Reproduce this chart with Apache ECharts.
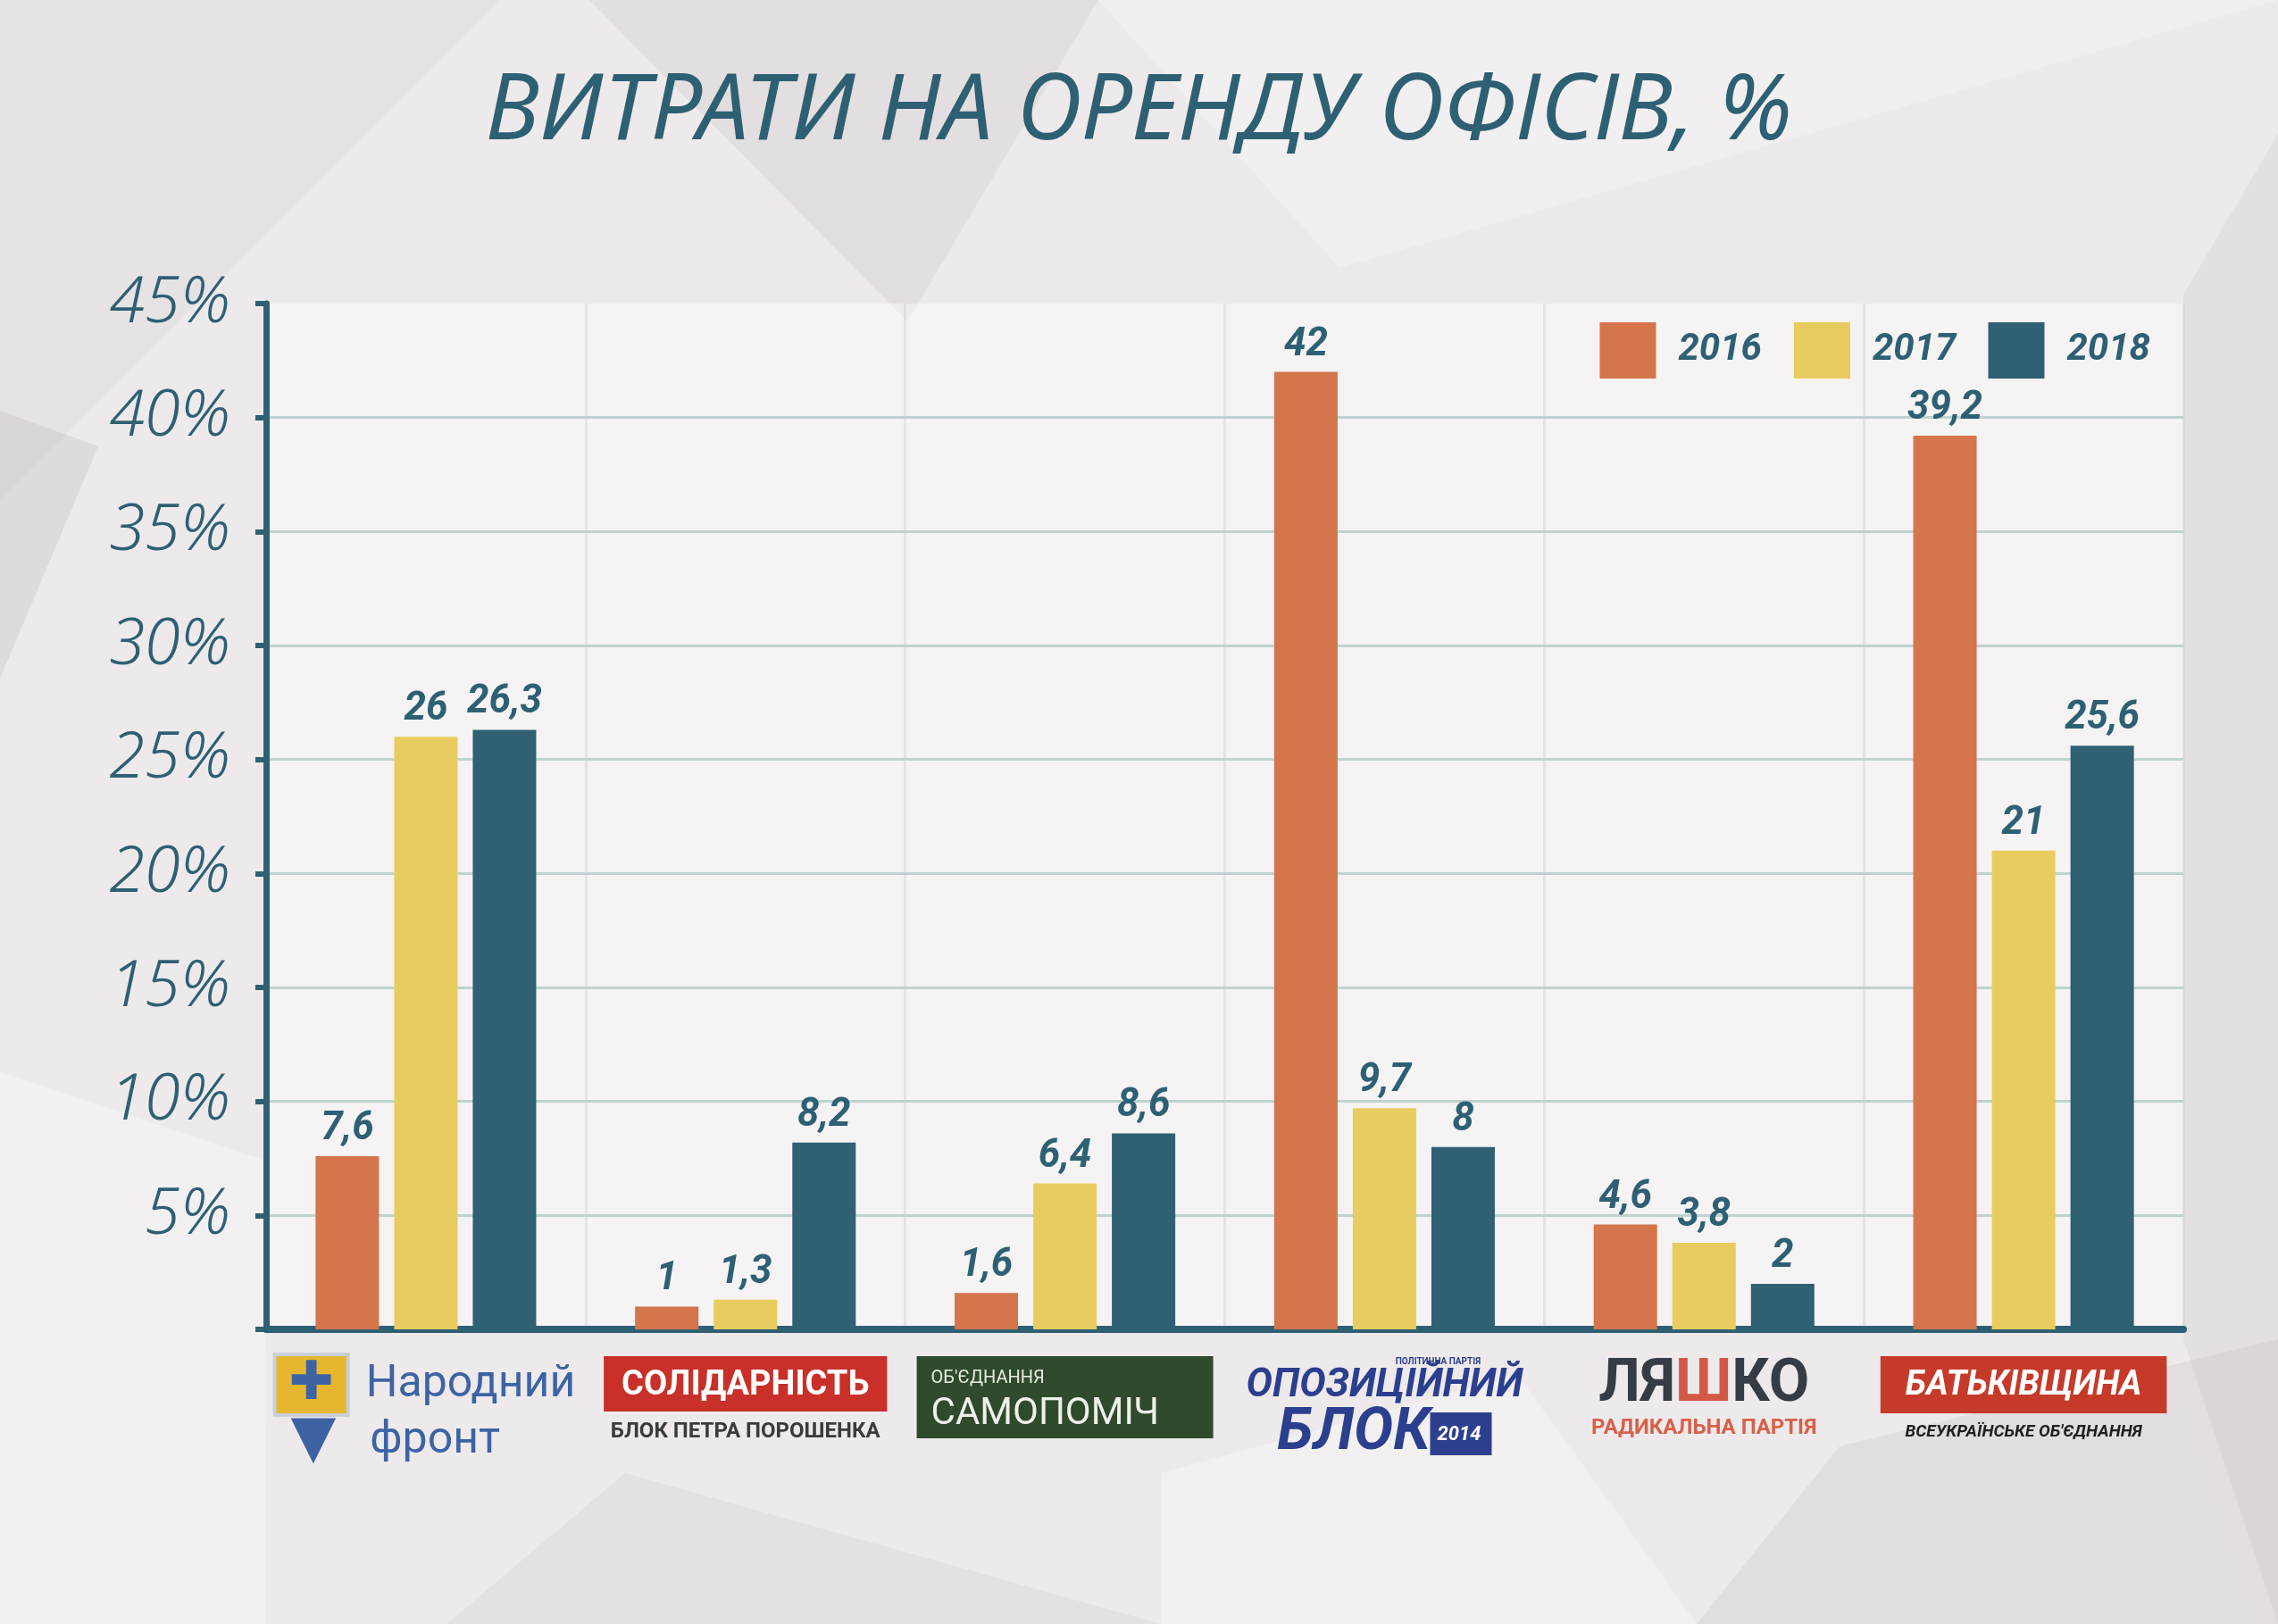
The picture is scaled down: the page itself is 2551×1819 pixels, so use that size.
<!DOCTYPE html>
<html>
<head>
<meta charset="utf-8">
<title>Витрати на оренду офісів</title>
<script src="https://cdn.jsdelivr.net/npm/echarts@6/dist/echarts.min.js"></script>
<style>
  html, body { margin: 0; padding: 0; background: #eeeaeb; }
  #chart { width: 2551px; height: 1819px; }
</style>
</head>
<body>
<div id="chart"></div>
<script>
const categories = ['Народний фронт', 'Солідарність', 'Самопоміч', 'Опозиційний блок', 'Радикальна партія Ляшка', 'Батьківщина'];
const years = ['2016', '2017', '2018'];
const values2016 = [7.6, 1, 1.6, 42, 4.6, 39.2];
const values2017 = [26, 1.3, 6.4, 9.7, 3.8, 21];
const values2018 = [26.3, 8.2, 8.6, 8, 2, 25.6];
const yTicks = [0, 5, 10, 15, 20, 25, 30, 35, 40, 45];

const colors = ['#d4754c', '#e8cc5f', '#2f6074'];
const ink = '#2e6074';
const bold = "Roboto, 'Liberation Sans', sans-serif";

// party "logos" drawn as rich text under each category
const logoLabels = {
  'Народний фронт': '{sh1|✚}{nf|Народний}\n{sh2|▼}{nf|фронт}',
  'Солідарність': '{sol|СОЛІДАРНІСТЬ}\n{solSub|БЛОК ПЕТРА ПОРОШЕНКА}',
  'Самопоміч': "{sam1|ОБ'ЄДНАННЯ}\n{sam2|САМОПОМІЧ}",
  'Опозиційний блок': '{op0|ПОЛІТИЧНА ПАРТІЯ}\n{op1|ОПОЗИЦІЙНИЙ}\n{op2|БЛОК}{op3|2014}',
  'Радикальна партія Ляшка': '{l1|ЛЯ}{l1r|Ш}{l1|КО}\n{l2|РАДИКАЛЬНА ПАРТІЯ}',
  'Батьківщина': "{b1|БАТЬКІВЩИНА}\n{b2|ВСЕУКРАЇНСЬКЕ ОБ'ЄДНАННЯ}"
};

const fmt = (v) => String(v).replace('.', ',');

const chart = echarts.init(document.getElementById('chart'));

const barLabel = {
  show: true,
  position: 'top',
  distance: 8,
  color: ink,
  fontFamily: bold,
  fontWeight: 'bold',
  fontStyle: 'italic',
  fontSize: 44,
  formatter: (p) => fmt(p.value)
};

// faint low-poly background shapes
const bgShapes = [
  { points: [[660, 0], [1230, 0], [1016, 360]], fill: 'rgba(200,192,195,0.28)' },
  { points: [[0, 0], [560, 0], [0, 560]], fill: 'rgba(200,192,195,0.18)' },
  { points: [[1230, 0], [2551, 0], [1500, 300]], fill: 'rgba(255,255,255,0.25)' },
  { points: [[2445, 330], [2551, 150], [2551, 1819], [2445, 1500]], fill: 'rgba(200,192,195,0.25)' },
  { points: [[0, 460], [110, 500], [0, 760]], fill: 'rgba(190,182,185,0.3)' },
  { points: [[0, 1200], [298, 1300], [298, 1819], [0, 1819]], fill: 'rgba(255,255,255,0.3)' },
  { points: [[2060, 1620], [2551, 1500], [2551, 1819], [1900, 1819]], fill: 'rgba(200,192,195,0.3)' },
  { points: [[700, 1650], [1300, 1819], [500, 1819]], fill: 'rgba(200,192,195,0.22)' },
  { points: [[1300, 1650], [1700, 1540], [1900, 1819], [1300, 1819]], fill: 'rgba(255,255,255,0.3)' }
];

chart.setOption({
  animation: false,
  backgroundColor: '#eeeaeb',
  color: colors,
  graphic: bgShapes.map((s) => ({
    type: 'polygon',
    z: -10,
    silent: true,
    shape: { points: s.points },
    style: { fill: s.fill }
  })),
  title: {
    text: 'ВИТРАТИ НА ОРЕНДУ ОФІСІВ, %',
    left: 'center',
    top: 70,
    textStyle: {
      color: ink,
      fontFamily: "'Noto Sans', sans-serif",
      fontStyle: 'italic',
      fontWeight: 'normal',
      fontSize: 103
    }
  },
  legend: {
    data: years,
    right: 138,
    top: 356,
    icon: 'rect',
    itemWidth: 63,
    itemHeight: 63,
    itemGap: 36,
    formatter: (name) => '{t|' + name + '}',
    textStyle: {
      rich: {
        t: {
          color: ink,
          fontFamily: bold,
          fontWeight: 'bold',
          fontStyle: 'italic',
          fontSize: 42,
          padding: [0, 0, 0, 20]
        }
      }
    }
  },
  grid: {
    left: 298,
    right: 106,
    top: 340,
    bottom: 330,
    show: true,
    backgroundColor: 'rgba(255,255,255,0.42)',
    borderWidth: 0
  },
  xAxis: {
    type: 'category',
    data: categories,
    axisLine: { lineStyle: { color: ink, width: 8 } },
    axisTick: { show: false },
    splitLine: { show: true, lineStyle: { color: 'rgba(195,208,208,0.4)', width: 3 } },
    axisLabel: {
      interval: 0,
      margin: 30,
      formatter: (v) => logoLabels[v],
      rich: {
        sh1: { align: 'left', height: 64, backgroundColor: '#e6b62f', borderColor: '#c8d0d8', borderWidth: 4, color: '#3d63a5', fontSize: 60, fontFamily: 'DejaVu Sans', padding: [0, 14, 0, 14] },
        sh2: { align: 'left', height: 60, color: '#3d63a5', fontSize: 66, fontFamily: 'DejaVu Sans', padding: [0, 16, 0, 16] },
        nf: { align: 'left', color: '#3d63a5', fontSize: 50, fontFamily: "Roboto, sans-serif", lineHeight: 62, padding: [0, 0, 0, 22] },
        sol: { color: '#ffffff', backgroundColor: '#c9302a', fontFamily: bold, fontWeight: 'bold', fontSize: 38, padding: [14, 20, 10, 20] },
        solSub: { color: '#3b3b3b', fontFamily: bold, fontWeight: 'bold', fontSize: 24, lineHeight: 46 },
        sam1: { color: '#e8ebe4', backgroundColor: '#2f4a2c', width: 300, height: 34, align: 'left', fontFamily: bold, fontSize: 20, padding: [8, 16, 0, 16] },
        sam2: { color: '#eef0ea', backgroundColor: '#2f4a2c', width: 300, height: 46, align: 'left', fontFamily: bold, fontSize: 42, padding: [0, 16, 4, 16] },
        op0: { color: '#2c3f8f', fontFamily: bold, fontWeight: 'bold', fontSize: 10, lineHeight: 12, padding: [0, 0, 0, 120] },
        op1: { color: '#2c3f8f', fontFamily: bold, fontWeight: 'bold', fontStyle: 'italic', fontSize: 44, lineHeight: 44 },
        op2: { color: '#2c3f8f', fontFamily: bold, fontWeight: 'bold', fontStyle: 'italic', fontSize: 66, lineHeight: 62 },
        op3: { color: '#ffffff', backgroundColor: '#2c3f8f', fontFamily: bold, fontWeight: 'bold', fontStyle: 'italic', fontSize: 22, padding: [14, 12, 12, 8] },
        l1: { color: '#353c46', fontFamily: bold, fontWeight: 'bold', fontSize: 66, lineHeight: 66 },
        l1r: { color: '#d25a45', fontFamily: bold, fontWeight: 'bold', fontSize: 66, lineHeight: 66 },
        l2: { color: '#d8604a', fontFamily: bold, fontWeight: 'bold', fontSize: 24, lineHeight: 30 },
        b1: { color: '#ffffff', backgroundColor: '#c63a2a', fontFamily: bold, fontWeight: 'bold', fontStyle: 'italic', fontSize: 38, padding: [14, 28, 12, 28] },
        b2: { color: '#1f1f1f', fontFamily: bold, fontWeight: 'bold', fontStyle: 'italic', fontSize: 19, lineHeight: 42 }
      }
    }
  },
  yAxis: {
    type: 'value',
    min: yTicks[0],
    max: yTicks[yTicks.length - 1],
    interval: 5,
    axisLine: { show: true, lineStyle: { color: ink, width: 7 } },
    axisTick: { show: true, length: 12, lineStyle: { color: ink, width: 6 } },
    splitLine: { show: true, showMaxLine: false, lineStyle: { color: '#bfd2d0', width: 3 } },
    axisLabel: {
      margin: 40,
      color: ink,
      fontFamily: "'Noto Sans', sans-serif",
      fontStyle: 'italic',
      fontWeight: 300,
      fontSize: 72,
      formatter: (v) => (v === 0 ? '' : v + '%')
    }
  },
  series: [
    { name: years[0], type: 'bar', data: values2016, barWidth: 71, barGap: '24%', label: barLabel },
    { name: years[1], type: 'bar', data: values2017, barWidth: 71, barGap: '24%', label: barLabel },
    { name: years[2], type: 'bar', data: values2018, barWidth: 71, barGap: '24%', label: barLabel }
  ]
});
</script>
</body>
</html>
